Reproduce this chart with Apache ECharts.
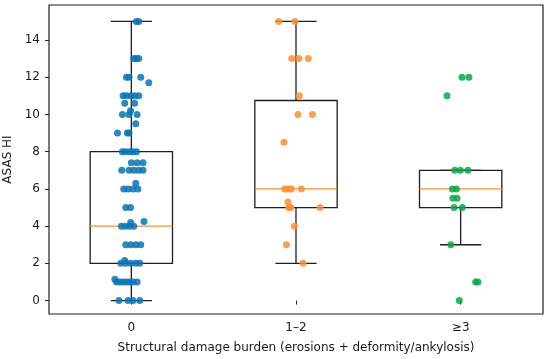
<!DOCTYPE html>
<html>
<head>
<meta charset="utf-8">
<script src="https://cdn.jsdelivr.net/npm/echarts@6/dist/echarts.min.js"></script>
<style>html,body{margin:0;padding:0;background:#fff}#c{width:550px;height:359px}</style>
</head>
<body>
<div id="c"></div>
<script>
// Categories and tick labels
const categories = ['0', '1\u20132', '\u22653'];
const yTicks = [0, 2, 4, 6, 8, 10, 12, 14];

// Box statistics: [whiskerLow, Q1, median, Q3, whiskerHigh]
const box0 = [0, 2, 4, 8, 15];
const box1 = [2, 5, 6, 10.75, 15];
const box2 = [3, 5, 6, 7, 7];

// Individual points (values) and their horizontal jitter (in category widths)
const vals0 = [15,15, 13,13,13, 12,12,12, 11.7, 11,11,11,11,11, 10.6,10.6, 10.2, 10,10,10, 9.5, 9,9,9,
  8,8,8,8,8, 7.4,7.4,7.4, 7,7,7,7,7, 6.3, 6,6,6,6, 5,5, 4.25,4.2, 4,4,4,4, 3,3,3,3, 2.15,
  2,2,2,2,2, 1.15, 1,1,1,1,1,1,1, 0,0,0,0];
const jit0 = [0.03,0.045, 0.015,0.03,0.045, -0.03,-0.014,0.057, 0.106, -0.05,-0.03,-0.004,0.02,0.045, -0.04,0.02, -0.005, -0.054,-0.014,0.035, 0.027, -0.084,-0.024,-0.014,
  -0.054,-0.034,-0.01,0.01,0.031, 0.0,0.035,0.071, -0.058,-0.014,0.015,0.045,0.071, 0.027, -0.046,-0.02,0.01,0.04, -0.034,-0.005, 0.077,-0.004, -0.06,-0.036,-0.01,0.015, -0.034,-0.004,0.027,0.057, -0.04,
  -0.064,-0.034,-0.004,0.027,0.051, -0.1, -0.09,-0.07,-0.05,-0.03,-0.01,0.01,0.035, -0.075,-0.02,0.01,0.051];

const vals1 = [15,15, 13,13,13, 11, 10,10, 8.5, 6,6,6,6,6, 5.3, 5,5,5, 4, 3, 2];
const jit1 = [-0.105,-0.006, -0.026,0.018,0.075, 0.02, 0.012,0.1, -0.073, -0.069,-0.055,-0.04,-0.028,0.033, -0.049, -0.044,-0.032,0.146, -0.01, -0.058, 0.043];

const vals2 = [12,12, 11, 7,7,7, 6,6, 5.5,5.5, 5,5, 3, 1,1, 0];
const jit2 = [0.008,0.05, -0.083, -0.036,-0.002,0.044, -0.05,-0.026, -0.047,-0.022, -0.04,0.01, -0.06, 0.091,0.105, -0.008];

const colors = ['#0a74b4', '#f7923c', '#0aa64c'];
const boxes = [box0, box1, box2];
const valsList = [vals0, vals1, vals2];
const jitList = [jit0, jit1, jit2];

const font = 'DejaVu Sans';
const chart = echarts.init(document.getElementById('c'), null, {renderer: 'canvas'});

const boxData = boxes.map((b, i) => [i + 1].concat(b));

const scatterSeries = valsList.map((v, i) => ({
  type: 'scatter',
  data: v.map((y, k) => [i + 1 + jitList[i][k], y]),
  symbolSize: 7,
  itemStyle: {color: colors[i], opacity: 0.85},
  z: 5,
  silent: true
}));

chart.setOption({
  animation: false,
  grid: {left: 49, right: 7, top: 5, bottom: 45, show: true, borderColor: '#1e1e1e', borderWidth: 1.2,
         containLabel: false, outerBoundsMode: 'none'},
  xAxis: {
    type: 'value', min: 0.5, max: 3.5,
    splitLine: {show: false},
    axisLine: {show: false},
    axisTick: {show: true, customValues: [1, 2, 3], length: 4, inside: false, lineStyle: {color: '#222'}},
    axisLabel: {customValues: [1, 2, 3], formatter: v => categories[Math.round(v) - 1], fontFamily: font, fontSize: 12, color: '#1a1a1a', margin: 8},
    name: 'Structural damage burden (erosions + deformity/ankylosis)',
    nameLocation: 'middle', nameGap: 28,
    nameTextStyle: {fontFamily: font, fontSize: 12, color: '#1a1a1a'}
  },
  yAxis: {
    type: 'value', min: -0.72, max: 15.88,
    splitLine: {show: false},
    axisLine: {show: false},
    axisTick: {show: true, customValues: yTicks, length: 4, lineStyle: {color: '#222'}},
    axisLabel: {customValues: yTicks, fontFamily: font, fontSize: 12, color: '#1a1a1a', margin: 9},
    name: 'ASAS HI', nameLocation: 'middle', nameGap: 32,
    nameTextStyle: {fontFamily: font, fontSize: 12, color: '#1a1a1a'}
  },
  series: [{
    type: 'custom',
    data: boxData,
    encode: {x: 0, y: [1, 2, 3, 4, 5]},
    z: 2,
    silent: true,
    renderItem: function (params, api) {
      const x = api.value(0);
      const lo = api.coord([x, api.value(1)]);
      const q1 = api.coord([x, api.value(2)]);
      const med = api.coord([x, api.value(3)]);
      const q3 = api.coord([x, api.value(4)]);
      const hi = api.coord([x, api.value(5)]);
      const half = api.coord([x + 0.25, 0])[0] - api.coord([x, 0])[0];
      const cap = api.coord([x + 0.125, 0])[0] - api.coord([x, 0])[0];
      const cx = q1[0];
      const st = {stroke: '#1e1e1e', lineWidth: 1.3, fill: null};
      return {
        type: 'group',
        children: [
          {type: 'rect', shape: {x: cx - half, y: q3[1], width: 2 * half, height: q1[1] - q3[1]}, style: st},
          {type: 'line', shape: {x1: cx, y1: q1[1], x2: cx, y2: lo[1]}, style: st},
          {type: 'line', shape: {x1: cx, y1: q3[1], x2: cx, y2: hi[1]}, style: st},
          {type: 'line', shape: {x1: cx - cap, y1: lo[1], x2: cx + cap, y2: lo[1]}, style: st},
          {type: 'line', shape: {x1: cx - cap, y1: hi[1], x2: cx + cap, y2: hi[1]}, style: st},
          {type: 'line', shape: {x1: cx - half, y1: med[1], x2: cx + half, y2: med[1]}, style: {stroke: '#f5913a', lineWidth: 1.3}}
        ]
      };
    }
  }].concat(scatterSeries)
});
</script>
</body>
</html>
